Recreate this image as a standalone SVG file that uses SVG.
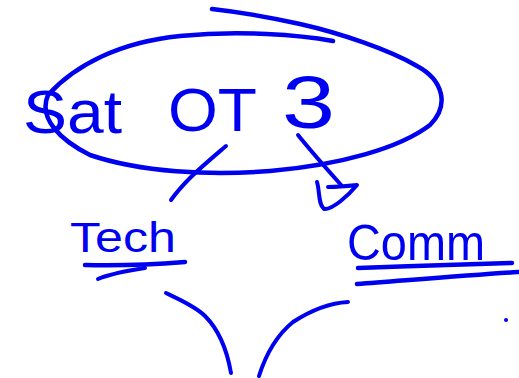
<svg xmlns="http://www.w3.org/2000/svg" width="519" height="378" viewBox="0 0 519 378">
  <style>
    .ink { fill: none; stroke: #0000f0; stroke-linecap: round; stroke-linejoin: round; }
    .word { fill: #0000f0; font-family: "Liberation Sans", "DejaVu Sans", sans-serif; }
  </style>
  <rect width="519" height="378" fill="#ffffff"/>

  <!-- circled heading -->
  <g id="sat-of-3">
    <path class="ink" stroke-width="4.5" d="M333,41 C300,35 240,30 180,36 C120,42 75,65 48,95 C38,118 60,140 90,155 C140,172 210,176 270,171 C340,165 400,148 430,125 C450,105 443,80 417,66 C390,50 340,33 300,24 C260,15 230,11 212,9"/>
    <text class="word" x="23" y="133" font-size="62" textLength="99" lengthAdjust="spacingAndGlyphs">Sat</text>
    <text class="word" x="168" y="131" font-size="62" textLength="89" lengthAdjust="spacingAndGlyphs">OT</text>
    <text class="word" x="282" y="128" font-size="74" textLength="53" lengthAdjust="spacingAndGlyphs">3</text>
  </g>

  <!-- left branch label -->
  <g id="tech">
    <text class="word" x="70" y="252" font-size="42" textLength="106" lengthAdjust="spacingAndGlyphs">Tech</text>
    <path class="ink" stroke-width="4.5" d="M85,265 C120,266 160,264 185,262"/>
    <path class="ink" stroke-width="4" d="M145,268 C125,271 110,274 98,279"/>
  </g>

  <!-- right branch label -->
  <g id="comm">
    <text class="word" x="347" y="260" font-size="50" textLength="138" lengthAdjust="spacingAndGlyphs">Comm</text>
    <path class="ink" stroke-width="4.5" d="M358,268 C410,266 470,264 512,263"/>
    <path class="ink" stroke-width="4.5" d="M357,284 C410,280 470,275 518,272"/>
  </g>

  <!-- connectors -->
  <g id="connectors">
    <path class="ink" stroke-width="4" d="M226,146 C212,158 200,168 190,178 C182,186 176,193 171,200"/>
    <path class="ink" stroke-width="4" d="M298,135 C310,150 325,167 342,186"/>
    <path class="ink" stroke-width="4" d="M317,182 C320,192 318,204 324,209 C332,210 348,196 357,185 C348,186 338,187 328,187"/>
  </g>

  <!-- loose strokes below -->
  <g id="strokes">
    <path class="ink" stroke-width="4" d="M166,293 C180,300 195,306 205,316 C220,331 227,350 231,373"/>
    <path class="ink" stroke-width="4" d="M348,302 C330,303 310,311 293,322 C277,335 266,354 259,376"/>
    <circle cx="506" cy="320" r="2" fill="#0000f0"/>
  </g>
</svg>
